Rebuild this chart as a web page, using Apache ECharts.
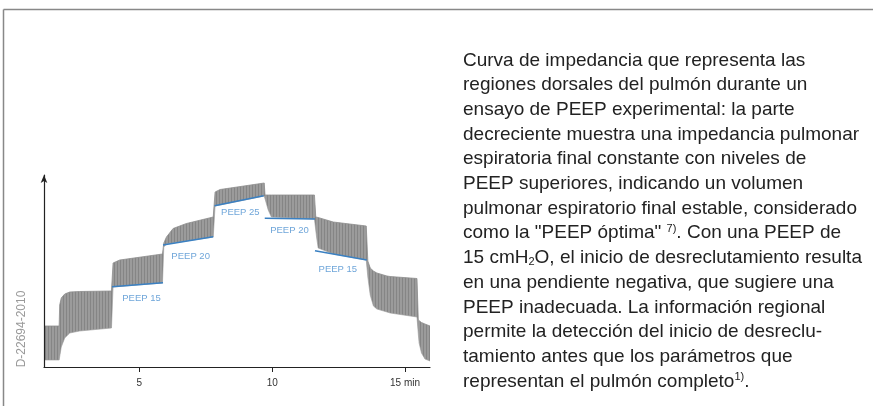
<!DOCTYPE html>
<html><head><meta charset="utf-8">
<script src="https://cdn.jsdelivr.net/npm/echarts@6/dist/echarts.min.js"></script>
<style>html,body{margin:0;padding:0;background:#fff}#c{width:873px;height:406px}</style>
</head><body><div id="c"></div>
<script>
// time in minutes
const times =    [1.41, 1.98, 2.00, 2.06, 2.19, 2.38, 2.75, 3.95, 4.01, 4.26, 5.87, 5.92, 6.02, 6.27, 6.77, 7.78, 7.85, 8.04, 9.70, 9.73, 9.85, 9.97, 11.59, 11.64, 11.67, 11.73, 12.30, 13.54, 13.60, 13.69, 13.81, 13.94, 14.32, 14.44, 15.45, 15.50, 15.53, 15.62, 15.75, 15.94];
// end-expiratory (lower) envelope of the impedance curve
const lowerEnv = [7,    7,    9,    20,   29,   34,   36,   39,   80,   80.5, 84,   120,  123,  124,  126,  130,  161,  162,  171,  170.5, 157, 150,  148,   147,   130,   119,   113,   107,   90,    72,    61,    58,    55,    54,    50,    33,    24,    14,    8,     6];
// end-inspiratory (upper) envelope
const upperEnv = [41,   41,   62,   69,   73,   75,   75.5, 76,   104,  107,  113,  124,  130,  138.5,143.5,150,  175,  177.5,184,  172,  172,  172,  172,   150,   150,   149.5, 145,   141,   106,   99,    96,    94,    91,    90.5,  88.5,  47,    46,    44.5,  43,    41];
// blue end-expiratory trend segments [t0, v0, t1, v1]
const peepLines = [
  [3.97, 80.3, 5.89, 84.3],
  [5.89, 122, 7.78, 130.3],
  [7.83, 161.3, 9.68, 171.3],
  [9.72, 148.7, 11.61, 148],
  [11.61, 116.3, 13.56, 107]
];
const peepLabels = [
  [5.08, 68.7, 'PEEP 15'],
  [6.93, 110.3, 'PEEP 20'],
  [8.80, 154.3, 'PEEP 25'],
  [10.65, 136.3, 'PEEP 20'],
  [12.47, 97.7, 'PEEP 15']
];
const xTicks = [5, 10, 15];
const xUnit = 'min';
const figureCode = 'D-22694-2010';
const textLines = [
  'Curva de impedancia que representa las',
  'regiones dorsales del pulmón durante un',
  'ensayo de PEEP experimental: la parte',
  'decreciente muestra una impedancia pulmonar',
  'espiratoria final constante con niveles de',
  'PEEP superiores, indicando un volumen',
  'pulmonar espiratorio final estable, considerado',
  'como la "PEEP óptima" {sup|7)}. Con una PEEP de',
  '15 cmH{sub|2}O, el inicio de desreclutamiento resulta',
  'en una pendiente negativa, que sugiere una',
  'PEEP inadecuada. La información regional',
  'permite la detección del inicio de desreclu-',
  'tamiento antes que los parámetros que',
  'representan el pulmón completo{sup|1)}.'
];

const chart = echarts.init(document.getElementById('c'), null, {renderer: 'canvas'});
const FONT = '"Liberation Sans", Arial, Helvetica, sans-serif';
const blue = '#3a80c2';

const series = [
  {
    // upper envelope, gray breathing band filled down
    type: 'line', symbol: 'none', silent: true, z: 2,
    data: times.map((t, i) => [t, upperEnv[i]]),
    lineStyle: {width: 0.8, color: '#8e8e8e'},
    itemStyle: {
      color: '#9b9b9b',
      decal: {symbol: 'rect', symbolSize: 1, color: 'rgba(100,100,100,0.4)', dashArrayX: [1, 2], dashArrayY: [5, 0]}
    },
    areaStyle: {color: '#9b9b9b', opacity: 1}
  },
  {
    // lower envelope: blank out below it
    type: 'line', symbol: 'none', silent: true, z: 3,
    data: times.map((t, i) => [t, lowerEnv[i]]),
    lineStyle: {width: 0.6, color: '#9b9b9b'},
    itemStyle: {color: '#ffffff'},
    areaStyle: {color: '#ffffff', opacity: 1}
  }
];
peepLines.forEach(s => {
  series.push({
    type: 'line', symbol: 'none', silent: true, z: 5,
    data: [[s[0], s[1]], [s[2], s[3]]],
    lineStyle: {color: blue, width: 1.6}
  });
});
series.push({
  type: 'scatter', symbolSize: 0, silent: true, z: 6,
  data: peepLabels,
  label: {
    show: true, position: 'inside', formatter: p => p.value[2],
    color: '#4a8fd0', fontSize: 9.5, fontFamily: FONT
  }
});

chart.setOption({
  animation: false,
  backgroundColor: '#fff',
  grid: {left: 44, right: 443, top: 175, bottom: 39, containLabel: false},
  xAxis: {
    type: 'value', min: 1.41, max: 15.94, z: 10,
    splitLine: {show: false},
    axisLine: {lineStyle: {color: '#222', width: 1.2}},
    axisTick: {show: true, length: 5, lineStyle: {color: '#222'}, customValues: xTicks},
    axisLabel: {
      customValues: xTicks, margin: 11, color: '#333', fontSize: 10, fontFamily: FONT,
      formatter: v => v === xTicks[xTicks.length - 1] ? v + ' ' + xUnit : String(v)
    }
  },
  yAxis: {
    type: 'value', min: 0, max: 192, z: 10,
    splitLine: {show: false},
    axisLine: {show: true, symbol: ['none', 'arrow'], symbolSize: [5, 8], lineStyle: {color: '#222', width: 1.2}},
    axisTick: {show: false},
    axisLabel: {show: false}
  },
  graphic: [
    {type: 'line', shape: {x1: 3.5, y1: 9.5, x2: 873, y2: 9.5}, style: {stroke: '#888', lineWidth: 1.5}, silent: true},
    {type: 'line', shape: {x1: 3.5, y1: 9.5, x2: 3.5, y2: 406}, style: {stroke: '#888', lineWidth: 1.5}, silent: true},
    {type: 'text', x: 22, y: 329, rotation: Math.PI / 2,
      style: {text: figureCode, fill: '#9a9a9a', font: '12px ' + FONT, textAlign: 'center', textVerticalAlign: 'middle'}},
    {type: 'text', x: 463, y: 48,
      style: {
        text: textLines.join('\n'), fill: '#222', font: '19px ' + FONT, lineHeight: 24.7,
        rich: {
          sup: {fontSize: 11, fontFamily: FONT, fill: '#222', padding: [0, 0, 9, 0]},
          sub: {fontSize: 11, fontFamily: FONT, fill: '#222', padding: [8, 0, 0, 0]}
        }
      }}
  ],
  series: series
});
</script>
</body></html>
